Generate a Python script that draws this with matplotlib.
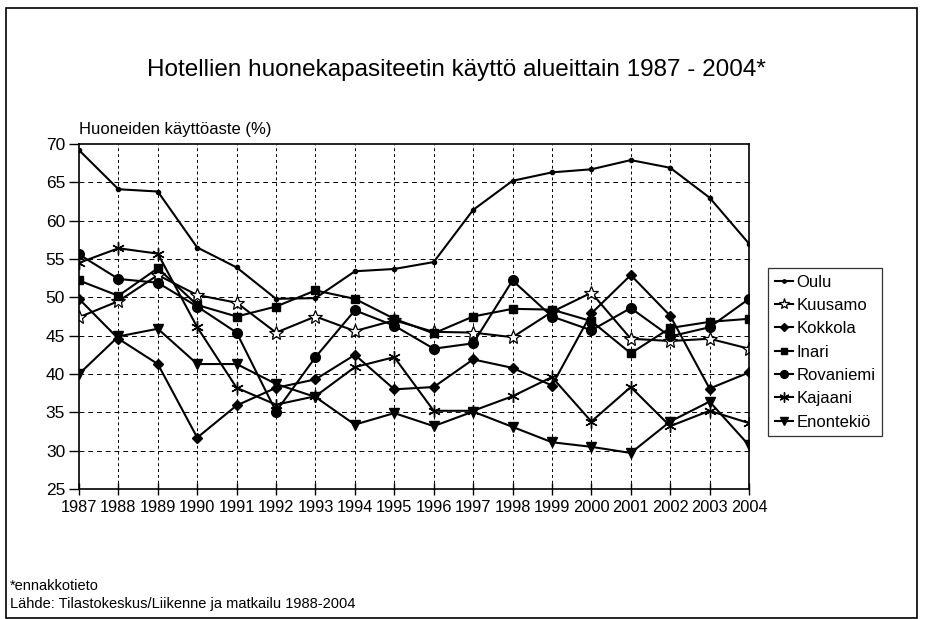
import numpy as np
import matplotlib
matplotlib.use("Agg")
import matplotlib.pyplot as plt
from matplotlib.patches import Rectangle

plt.rcParams['font.family'] = ['Liberation Sans', 'DejaVu Sans']

# hotel room occupancy (%) by region, 2004 preliminary
years = list(range(1987, 2005))
oulu = [69.2, 64.1, 63.8, 56.5, 53.9, 49.8, 49.9, 53.4, 53.7, 54.6,
        61.4, 65.2, 66.3, 66.7, 67.9, 66.9, 63.0, 57.0]
kuusamo = [47.4, 49.5, 52.9, 50.3, 49.3, 45.4, 47.5, 45.6, 47.0, 45.5,
           45.4, 44.8, 48.1, 50.6, 44.6, 44.3, 44.6, 43.3]
kokkola = [49.8, 44.6, 41.3, 31.7, 35.9, 38.2, 39.3, 42.5, 38.0, 38.3,
           41.9, 40.8, 38.5, 47.9, 52.9, 47.6, 38.1, 40.2]
inari = [52.2, 50.2, 53.8, 49.0, 47.5, 48.8, 50.9, 49.8, 47.2, 45.3,
         47.5, 48.5, 48.4, 46.9, 42.7, 46.0, 46.8, 47.2]
rovaniemi = [55.6, 52.4, 51.9, 48.8, 45.4, 35.1, 42.2, 48.3, 46.3, 43.3,
             44.0, 52.2, 47.5, 45.7, 48.6, 44.9, 46.1, 49.8]
kajaani = [54.5, 56.4, 55.7, 46.1, 38.2, 36.0, 37.1, 40.9, 42.2, 35.2,
           35.2, 37.1, 39.6, 33.8, 38.3, 33.2, 35.2, 33.6]
enontekio = [40.0, 44.9, 45.9, 41.3, 41.3, 38.7, 37.0, 33.4, 34.9, 33.2,
             35.1, 33.1, 31.1, 30.5, 29.7, 33.8, 36.4, 30.7]

W, H = 925, 619
fig = plt.figure(figsize=(W / 100, H / 100), dpi=100)
ax = fig.add_axes([79 / W, 1 - 489 / H, (749 - 79) / W, (489 - 144) / H])

x = np.arange(len(years))
lk = dict(color='black', lw=1.5)
ax.plot(x, oulu, marker='o', ms=3, label='Oulu', **lk)
ax.plot(x, kuusamo, marker='*', ms=10, mfc='white', mec='black', mew=0.9,
        label='Kuusamo', **lk)
ax.plot(x, kokkola, marker='D', ms=5.5, label='Kokkola', **lk)
ax.plot(x, inari, marker='s', ms=5.5, label='Inari', **lk)
ax.plot(x, rovaniemi, marker='o', ms=7, label='Rovaniemi', **lk)
ax.plot(x, kajaani, marker=(6, 2, 0), ms=9, mew=1.0, label='Kajaani', **lk)
ax.plot(x, enontekio, marker='v', ms=7, label='Enontekiö', **lk)

ax.set_xlim(0, len(years) - 1)
ax.set_ylim(25, 70)
ax.set_yticks(range(25, 71, 5))
ax.set_xticks(x)
ax.set_xticklabels([str(y) for y in years])
ax.tick_params(axis='y', direction='out', length=7, width=1, labelsize=12.5, pad=3)
ax.tick_params(axis='x', direction='inout', length=8, width=1, labelsize=11.8, pad=4)

# dashed gridlines
for v in range(30, 70, 5):
    ax.axhline(v, color='black', lw=0.7, ls=(0, (5, 4)), zorder=0)
for i in x[1:-1]:
    ax.axvline(i, color='black', lw=0.7, ls=(0, (3, 3)), zorder=0)

for s in ax.spines.values():
    s.set_linewidth(1.2)

ax.text(0.0, 1.02, 'Huoneiden käyttöaste (%)', transform=ax.transAxes,
        ha='left', va='bottom', fontsize=12)

fig.text(456 / W, 1 - 70 / H,
         'Hotellien huonekapasiteetin käyttö alueittain 1987 - 2004*',
         ha='center', va='center', fontsize=17.5)

leg = fig.legend(loc='upper left', bbox_to_anchor=(768 / W, 1 - 268 / H),
                 frameon=True, fancybox=False, fontsize=12, handlelength=1.1,
                 handletextpad=0.2, labelspacing=0.5, borderpad=0.4,
                 borderaxespad=0, markerscale=0.8)
leg.get_frame().set_edgecolor('black')
leg.get_frame().set_linewidth(0.9)

fig.text(10 / W, 1 - 586 / H, '*ennakkotieto', ha='left', va='center', fontsize=10.5)
fig.text(10 / W, 1 - 604 / H, 'Lähde: Tilastokeskus/Liikenne ja matkailu 1988-2004',
         ha='left', va='center', fontsize=10.5)

# outer frame
fig.patches.append(Rectangle((6 / W, 1 / H), (917 - 6) / W, (611 - 1) / H,
                             transform=fig.transFigure, fill=False,
                             edgecolor='black', lw=1.2))

fig.savefig('out.png', dpi=100)
